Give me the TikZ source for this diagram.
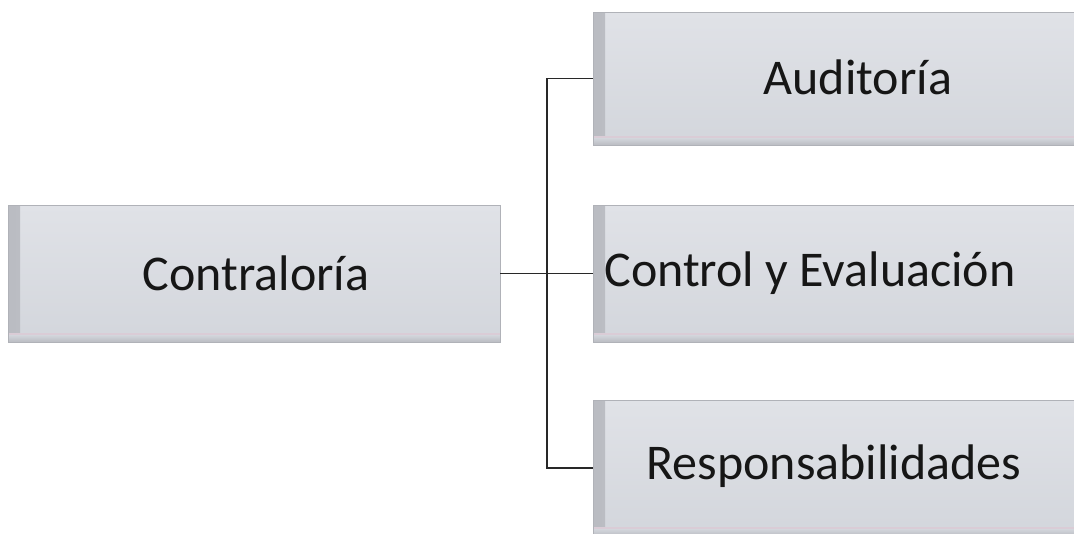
\documentclass[tikz,border=0pt]{standalone}
\usepackage{fontspec}
\setmainfont{Carlito}
\definecolor{paneltop}{RGB}{224,226,231}
\definecolor{panelbot}{RGB}{211,214,220}
\definecolor{paneledge}{RGB}{186,188,194}
\definecolor{panelline}{RGB}{176,178,184}
\definecolor{panelpink}{RGB}{218,204,214}
\definecolor{linkline}{RGB}{40,40,40}
\definecolor{labeltext}{RGB}{22,22,22}
\tikzset{
  panel/.style={rectangle, draw=panelline, line width=0.9pt,
    top color=paneltop, bottom color=panelbot, inner sep=0pt,
    path picture={
      % soft bevel on the left side
      \shade[left color=paneledge, right color=paneltop!60!panelbot]
        ([yshift=2pt]path picture bounding box.south west) rectangle
        ([xshift=12pt]path picture bounding box.north west);
      % soft bevel along the bottom
      \shade[top color=panelbot, bottom color=paneledge]
        (path picture bounding box.south west) rectangle
        ([yshift=7pt]path picture bounding box.south east);
      \fill[panelpink]
        ([yshift=7pt]path picture bounding box.south west) rectangle
        ([yshift=9pt]path picture bounding box.south east);
    }},
  caption/.style={text=labeltext, font=\fontsize{50}{60}\selectfont, inner sep=0pt},
  link/.style={draw=linkline, line width=1.8pt}
}
\begin{document}
\begin{tikzpicture}[x=1pt,y=-1pt]
  \useasboundingbox (0,0) rectangle (1074,533);
  \fill[white] (0,0) rectangle (1074,533);
  \begin{scope}
    \clip (0,0) rectangle (1074,533);
    % left box
    \node[panel, minimum width=492pt, minimum height=137pt] (contra) at (254,273.5) {};
    % boxes on the right, running off the page edge
    \node[panel, minimum width=530pt, minimum height=133pt] (aud) at (858,78.5) {};
    \node[panel, minimum width=530pt, minimum height=137pt] (ctrl) at (858,273.5) {};
    \node[panel, minimum width=530pt, minimum height=136pt] (resp) at (858,468) {};
    % labels
    \node[caption] (contraText) at (256,273) {Contraloría};
    \node[caption] (audText) at (858,77) {Auditoría};
    \node[caption] (ctrlText) at (810,273) {Control y Evaluación};
    \node[caption] (respText) at (834,466) {Responsabilidades};
    % connectors
    \coordinate (hub) at (547,273.5);
    \draw[link] (contra.east) -- (ctrl.west);
    \draw[link] (aud.west) -| (hub) |- (resp.west);
  \end{scope}
\end{tikzpicture}
\end{document}
